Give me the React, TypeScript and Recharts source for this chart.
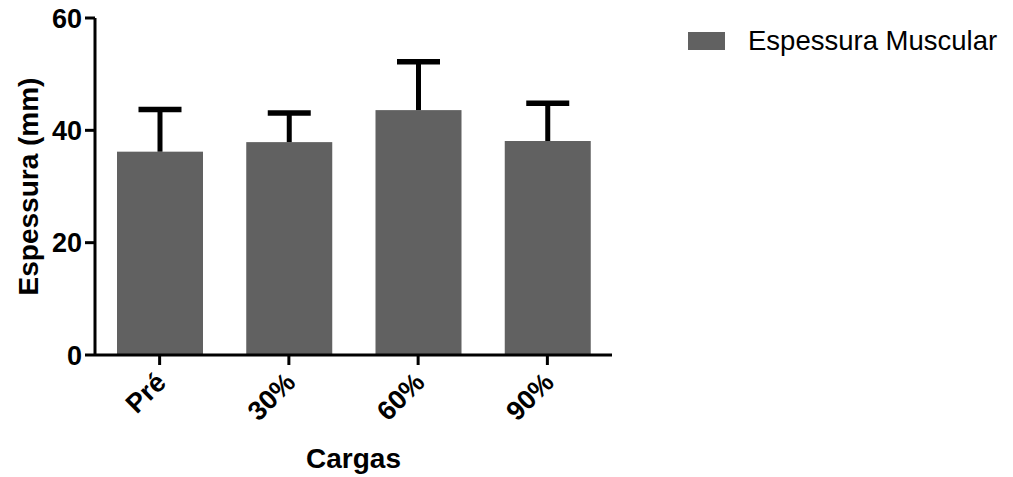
import React from "react";
import { BarChart, Bar, XAxis, YAxis, Legend, Label } from "recharts";

const categories = ["Pré", "30%", "60%", "90%"];
const means = [36.2, 37.9, 43.6, 38.1];
const sds = [7.5, 5.2, 8.6, 6.7];
const yTicks = [0, 20, 40, 60];
const seriesName = "Espessura Muscular";

const FONT = "'Liberation Sans', Arial, Helvetica, sans-serif";
const BAR_COLOR = "#616161";

const data = categories.map((c, i) => ({ cat: c, mean: means[i], sd: sds[i] }));

// bar + upper-only error whisker (Prism style)
function BarWithError(props: any) {
  const { x, y, width, height, payload } = props;
  const pxPerUnit = height / payload.mean;
  const yTop = y - payload.sd * pxPerUnit;
  const cx = x + width / 2;
  return (
    <g>
      <rect x={x} y={y} width={width} height={height} fill={BAR_COLOR} />
      <line x1={cx} x2={cx} y1={y} y2={yTop} stroke="#000" strokeWidth={5} />
      <line x1={cx - 21.5} x2={cx + 21.5} y1={yTop} y2={yTop} stroke="#000" strokeWidth={5.5} />
    </g>
  );
}

function XTick(props: any) {
  const { x, y, payload } = props;
  const ax = x + 8;
  const ay = y + 17;
  return (
    <text
      x={ax}
      y={ay}
      transform={`rotate(-45, ${ax}, ${ay})`}
      textAnchor="end"
      fontFamily={FONT}
      fontWeight="bold"
      fontSize={27}
      fill="#000"
    >
      {payload.value}
    </text>
  );
}

function LegendBox() {
  return (
    <div style={{ display: "flex", alignItems: "center", height: 31, fontFamily: FONT, fontSize: 27.5, lineHeight: "31px", color: "#000", whiteSpace: "nowrap" }}>
      <span style={{ display: "inline-block", width: 37, height: 18, background: BAR_COLOR, marginRight: 23 }} />
      <span>{seriesName}</span>
    </div>
  );
}

export default function App() {
  return (
    <div style={{ position: "absolute", left: 0, top: 0 }}>
      <BarChart width={1013} height={477} data={data} margin={{ top: 18, right: 401, bottom: 0, left: 0 }} barSize={86}>
        <XAxis
          dataKey="cat"
          height={122}
          axisLine={{ stroke: "#000", strokeWidth: 3 }}
          tickLine={{ stroke: "#000", strokeWidth: 3 }}
          tickSize={10}
          tick={<XTick />}
          interval={0}
        >
          <Label
            content={(p: any) => {
              const vb = p.viewBox;
              return (
                <text x={vb.x + vb.width / 2} y={468} textAnchor="middle" fontFamily={FONT} fontWeight="bold" fontSize={28} fill="#000">
                  Cargas
                </text>
              );
            }}
          />
        </XAxis>
        <YAxis
          width={95}
          domain={[0, 60]}
          ticks={yTicks}
          axisLine={{ stroke: "#000", strokeWidth: 3 }}
          tickLine={{ stroke: "#000", strokeWidth: 3 }}
          tickSize={10}
          tickMargin={3}
          tick={{ fontFamily: FONT, fontWeight: "bold", fontSize: 27, fill: "#000" }}
        >
          <Label
            content={(p: any) => {
              const vb = p.viewBox;
              const cy = vb.y + vb.height / 2;
              return (
                <text x={38} y={cy} transform={`rotate(-90, 38, ${cy})`} textAnchor="middle" fontFamily={FONT} fontWeight="bold" fontSize={28} fill="#000">
                  Espessura (mm)
                </text>
              );
            }}
          />
        </YAxis>
        <Legend
          layout="horizontal"
          verticalAlign="middle"
          align="center"
          content={() => <LegendBox />}
          wrapperStyle={{ top: 25, left: 688, width: 320, height: 31 }}
        />
        <Bar dataKey="mean" name={seriesName} fill={BAR_COLOR} shape={<BarWithError />} isAnimationActive={false} />
      </BarChart>
    </div>
  );
}
